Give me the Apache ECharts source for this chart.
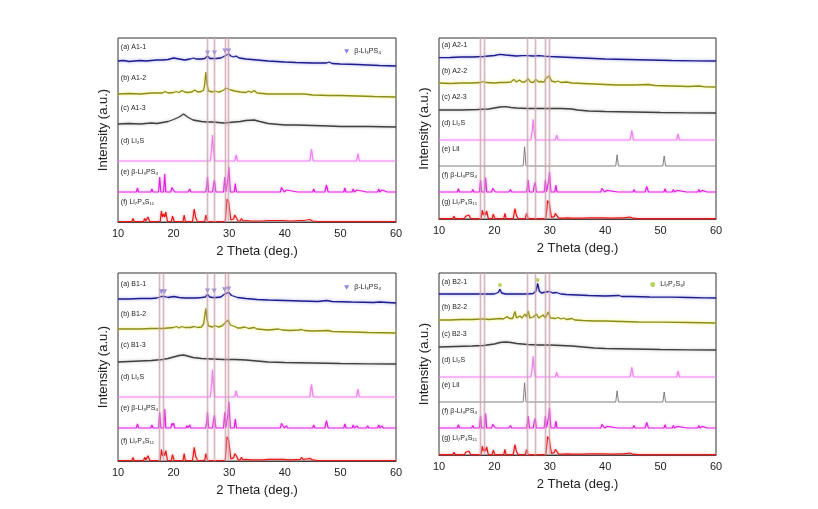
<!DOCTYPE html>
<html><head><meta charset="utf-8">
<script src="https://cdn.jsdelivr.net/npm/echarts@6/dist/echarts.min.js"></script>
<style>html,body{margin:0;padding:0;background:#fff}#c{width:818px;height:509px}</style>
</head><body><div id="c"></div>
<script>
// ---------------- DATA (2θ in degrees, intensity in a.u.) ----------------
const xTicks = [10, 20, 30, 40, 50, 60];
const refLines1 = [26.0, 27.3, 29.2, 29.9];
const refLines2 = [17.5, 18.2, 26.0, 27.3, 29.2, 29.9];

const labelsA1 = ['(a) A1-1', '(b) A1-2', '(c) A1-3', '(d) Li₂S', '(e) β-Li₃PS₄', '(f) Li₇P₃S₁₁'];
const labelsA2 = ['(a) A2-1', '(b) A2-2', '(c) A2-3', '(d) Li₂S', '(e) LiI', '(f) β-Li₃PS₄', '(g) Li₇P₃S₁₁'];
const labelsB1 = ['(a) B1-1', '(b) B1-2', '(c) B1-3', '(d) Li₂S', '(e) β-Li₃PS₄', '(f) Li₇P₃S₁₁'];
const labelsB2 = ['(a) B2-1', '(b) B2-2', '(c) B2-3', '(d) Li₂S', '(e) LiI', '(f) β-Li₃PS₄', '(g) Li₇P₃S₁₁'];
const markerNames = ['β-Li₃PS₄', 'Li₇P₂S₈I'];

const A1_1 = [[10,6],[11,6.5],[12,5.5],[13,6],[14,6.5],[15,6],[16,6.5],[17,7],[18,7],[19,7.5],[20,9],[21,8],[22,7],[23,8],[23.6,9],[24,8],[25,8],[25.6,8.5],[26.1,11],[26.5,8.5],[27,8.5],[27.3,10],[27.7,8.5],[28.5,9],[29.2,11],[29.5,12],[29.9,13],[30.3,11],[30.8,10],[31.2,11],[31.8,9],[33,8],[35,7],[37,6],[40,5],[42,4.5],[45,4],[47.5,4],[48,5],[48.5,3.5],[50,3],[53,2.5],[55,2],[57,1.5],[60,1]];
const A1_2 = [[10,4],[12,4.5],[14,4],[16,5],[18,5],[18.5,6.5],[19,5],[20,5.5],[20.5,6.5],[21,5.5],[21.5,7.5],[22,6],[22.5,5.5],[23.3,6],[23.8,8],[24.3,6],[25,6.5],[25.4,8],[25.6,14],[25.8,26],[26.0,14],[26.3,7],[27,6],[27.4,7],[28,6],[28.5,6.5],[29,8],[29.4,10],[29.8,9],[30.3,8],[31,7],[32,6],[33,5.5],[33.5,7],[34,5.5],[34.5,7.5],[35,5],[37,4],[39,4],[40,4],[43,4],[43.2,5],[43.5,4],[45,3],[48,2.5],[50,2.5],[53,2],[56,1.5],[60,1]];
const A1_3 = [[10,4],[12,4.5],[14,4],[16,5],[17,4.5],[18,5.5],[19,6.5],[20,8.5],[21,11],[21.8,14],[22.5,11],[23.5,8],[25,6.5],[26,6],[27,6],[28,5.5],[29,5],[30,5.5],[31,6],[32,6.5],[33,7.5],[34.5,8],[35.5,6.5],[37,4.5],[39,3.5],[40,3],[42,3],[45,2.5],[48,2],[50,1.5],[55,1.5],[60,1]];
const A1_1_marks = [[26.1,14],[27.35,14],[29.25,16],[29.9,16]];

const A2_1 = [[10,4.3],[12,4.5],[14,5],[16,5],[18,5.5],[19,6],[20,6.5],[21,7.7],[22,7],[23,6.5],[24,6],[25,6.3],[26,6.3],[27,6],[28,6.3],[29,5.8],[30,5.5],[32,5],[34,4.5],[36,4],[38,3.5],[40,3],[44,2.5],[48,2],[52,1.5],[56,1.2],[60,1]];
const A2_2 = [[10,5],[12,4.5],[14,5],[16,5],[17.5,5.5],[18,6.5],[18.5,5.5],[20,5],[21,5.5],[22,5.5],[23,6],[23.5,8.6],[24,6],[24.5,8],[25,6],[25.5,6],[26.1,9.3],[26.5,6],[27,5.5],[27.5,8.6],[28,6],[28.4,6.5],[29,6],[29.2,9],[29.5,7],[29.9,12.3],[30.3,7],[31,6],[31.5,7],[32,5.5],[33,6],[34,5],[36,4.5],[38,4],[40,3.5],[42,3],[45,3],[47.8,3.5],[49,2.5],[52,2],[55,1.5],[57,2],[58,1.2],[60,1]];
const A2_3 = [[10,4],[14,4],[17,4.5],[19,5],[20,6],[21,7],[22,7.3],[23,6.5],[24,6],[26,5.5],[28,5.5],[30,5.5],[32,5.5],[34,5],[35,4],[37,3],[40,2.5],[45,2],[50,1.5],[55,1.2],[60,1]];

const B1_1 = [[10,5],[12,5],[14,5.5],[16,5.5],[17,6],[17.8,7.5],[18.1,6.5],[18.4,7.5],[19,6.5],[20,7.5],[21,6.5],[22,6],[23,6],[24,6],[25,6.5],[25.7,7],[26.1,9.5],[26.5,7],[27,6.5],[27.3,8.5],[27.7,6.5],[28.5,7],[29.2,10],[29.5,9],[29.9,11.7],[30.4,8.5],[31,7.5],[31.5,6.5],[33,5.5],[35,4.5],[37,4],[40,3.5],[43,3],[46,2.5],[47.5,3.5],[48.5,2.5],[52,2],[56,1.5],[57,2],[60,1]];
const B1_2 = [[10,5],[12,5],[14,5],[16,5.5],[18,5.5],[19,6],[20,6.5],[20.5,7.5],[21,6],[21.5,7.5],[22,6.5],[23,6.5],[23.7,7.5],[24.3,6.5],[25,7],[25.4,10],[25.6,18],[25.8,25.7],[26.0,15],[26.3,8],[27,7],[27.4,8.5],[28,7],[28.7,8],[29.2,10.7],[29.5,9],[29.8,14],[30.2,9],[31,7.5],[31.5,6],[32,6],[32.8,7],[33.5,5.5],[34.5,6.5],[35,5],[37,4],[38.9,5],[39.5,4],[41,3.5],[42.5,4],[43,4.5],[43.5,3.5],[45,3],[47.8,3.5],[48.5,2.5],[52,2],[55,1.5],[60,1]];
const B1_3 = [[10,3],[12,3.5],[14,4],[16,4.5],[18,5.5],[19,6.5],[20,8],[21,9.5],[21.8,10],[22.5,9],[23.5,7.5],[25,6.5],[27,6],[29,5.5],[31,5.5],[33,5],[35,4],[37,3],[40,2.5],[45,2],[50,1.5],[55,1.2],[60,1]];
const B1_1_marks = [[17.8,12.3],[18.35,12.3],[26.1,13],[27.3,13],[29.2,14.3],[29.9,15]];

const B2_1 = [[10,5],[12,5],[14,5],[16,5],[18,5],[19,5],[20,5],[20.7,6.5],[21,9.7],[21.3,6],[22,5],[24,5],[26,5],[27,5.5],[27.5,8],[27.8,15.7],[28.1,8],[28.5,6],[29.3,7],[29.6,6],[30,7.5],[30.5,6],[31.2,6.5],[32,5],[33,4.5],[35,4],[37,3.5],[40,3],[42.5,3.5],[43,2.5],[45,2.5],[48,2],[52,1.8],[55,1.5],[58,1.2],[60,1]];
const B2_2 = [[10,4],[12,4],[14,4.5],[16,4.5],[17.5,5],[17.8,7],[18.1,5],[19,4.5],[20,5],[21,5.5],[21.3,6.5],[21.6,5],[22.3,7.5],[22.7,5.5],[23.3,5.5],[23.7,12.5],[24.0,6],[24.6,8],[25.0,6],[25.5,10],[25.8,7],[26.1,13],[26.4,6],[27.0,7],[27.6,10],[28,6],[28.8,9],[29.2,6],[29.7,12],[30.1,6],[31,5.5],[31.5,6.5],[32,5],[32.5,6],[33,4.5],[34,5.5],[34.5,4],[36,3.5],[38,3],[40,3],[43,2.5],[46,2],[50,1.8],[55,1.5],[60,1]];
const B2_3 = [[10,4],[13,4.5],[16,5],[18,5.5],[20,7],[21,8.5],[22,9],[23,8.5],[24,7.5],[26,6.5],[28,6],[30,6],[32,5.5],[34,5],[36,4],[38,3],[40,2.5],[45,2],[50,1.5],[55,1.2],[60,1]];
const B2_1_marks = [[21,14],[27.8,19]];

// reference patterns
const Li2S = [[10,0],[26.6,0],[26.85,13],[27.0,26],[27.15,13],[27.4,0],[31.0,0],[31.25,6],[31.5,0],[44.5,0],[44.8,12],[45.1,0],[52.9,0],[53.15,7.5],[53.4,0],[60,0]];
const LiI = [[10,0],[25.2,0],[25.45,24],[25.7,0],[41.9,0],[42.15,14],[42.4,0],[50.4,0],[50.65,12.5],[50.9,0],[60,0]];
const bLi3PS4 = [[10,0],[13.3,0],[13.5,4],[13.7,0],[15.9,0],[16.1,3],[16.3,0],[17.3,0],[17.5,15],[17.7,0],[18.2,0],[18.4,18],[18.6,0],[19.5,0],[19.7,4.5],[19.85,2.5],[20.0,4.5],[20.2,0],[22.2,0],[22.4,2],[22.6,0],[22.7,0],[22.9,3],[23.1,0],[25.8,0],[26.0,8],[26.1,15],[26.3,0],[27.0,0],[27.2,8],[27.35,12],[27.6,0],[29.0,0],[29.2,15],[29.4,0],[29.6,0],[29.8,14],[29.95,25],[30.2,0],[30.9,0],[31.1,8.5],[31.3,0],[37.1,0],[37.3,1.5],[37.5,0],[39.2,0],[39.4,4.5],[39.55,3],[39.7,4],[39.9,0],[40.1,0],[40.3,2],[40.5,0],[42.3,0],[42.5,1],[42.7,0],[45.0,0],[45.2,3],[45.4,0],[47.2,0],[47.5,7],[47.8,0],[50.6,0],[50.8,4],[51.0,0],[52.1,0],[52.3,3],[52.5,0],[52.8,0],[53.0,2],[53.2,0],[54.7,0],[54.9,2],[55.1,0],[56.7,0],[56.9,3],[57.1,0],[57.3,0],[57.5,2],[57.7,0],[58.4,0],[58.6,1],[58.8,0],[60,0]];
const Li7P3S11 = [[10,0.5],[12.5,0.5],[12.7,3.5],[12.9,0.5],[14.6,0.5],[14.8,3.5],[15.0,1],[15.4,5],[15.7,0.5],[17.6,0.5],[17.8,11],[18.0,5],[18.2,8],[18.4,5],[18.6,10],[18.9,0.5],[19.6,0.5],[19.8,6],[20.1,0.5],[21.7,0.5],[21.9,7],[22.1,0.5],[23.4,0.5],[23.7,13],[24.0,4],[24.3,0.5],[25.6,0.5],[25.8,7],[26.1,0.5],[29.3,0.5],[29.6,23],[29.9,20],[30.3,2],[30.6,0.5],[30.8,3],[31.0,7],[31.3,5],[31.6,1],[32.0,1],[32.2,3.5],[32.5,1],[33.0,1.5],[34,1],[36,1],[37,1.5],[38,1.5],[39.2,1.5],[39.4,3],[39.7,1.5],[41,1],[42.8,1.5],[43.0,3.5],[43.3,1.5],[44.0,2],[44.5,2.5],[45,1],[46,0.5],[60,0.5]];

// ---------------- STYLES / LAYOUT ----------------
const STY = {
  blue:  {color:'#1e1e8c', width:1.3, glow:'rgba(90,90,230,0.6)'},
  olive: {color:'#8c8c1c', width:1.3, glow:'rgba(235,235,80,0.9)'},
  gray:  {color:'#404040', width:1.3, glow:'rgba(120,120,120,0.5)'},
  li2s:  {color:'#ee82ee', width:1.2, glow:'rgba(250,170,250,0.8)'},
  lii:   {color:'#707070', width:0.9, glow:null},
  beta:  {color:'#e020e0', width:1.2, glow:'rgba(250,120,250,0.7)'},
  li7:   {color:'#e81818', width:1.2, glow:'rgba(250,140,140,0.8)'}
};

const panels = [
  {grid:{left:118, top:38, width:278, height:184}, H:184, lines:refLines1, rs:1.0, gap:20,
   traces:[[A1_1,155,'blue',0],[A1_2,124,'olive',1],[A1_3,94,'gray',2],[Li2S,61,'li2s',3],[bLi3PS4,30,'beta',4],[Li7P3S11,0,'li7',5]],
   labels:labelsA1, marks:{data:A1_1_marks, off:155, name:0}, legend:{right:432, top:43}},
  {grid:{left:439, top:38, width:277, height:181}, H:181, lines:refLines2, rs:0.8, gap:17,
   traces:[[A2_1,157,'blue',0],[A2_2,131,'olive',1],[A2_3,105,'gray',2],[Li2S,79,'li2s',3],[LiI,53,'lii',4],[bLi3PS4,27,'beta',5],[Li7P3S11,0,'li7',6]],
   labels:labelsA2},
  {grid:{left:118, top:273, width:278, height:188}, H:188, lines:refLines2, rs:1.05, gap:20,
   traces:[[B1_1,157,'blue',0],[B1_2,127,'olive',1],[B1_3,96,'gray',2],[Li2S,64,'li2s',3],[bLi3PS4,33,'beta',4],[Li7P3S11,0,'li7',5]],
   labels:labelsB1, marks:{data:B1_1_marks, off:157, name:0}, legend:{right:432, top:279}},
  {grid:{left:439, top:273, width:277, height:182}, H:182, lines:refLines2, rs:0.8, gap:17,
   traces:[[B2_1,156,'blue',0],[B2_2,131,'olive',1],[B2_3,104,'gray',2],[Li2S,78,'li2s',3],[LiI,53,'lii',4],[bLi3PS4,27,'beta',5],[Li7P3S11,0,'li7',6]],
   labels:labelsB2, marks:{data:B2_1_marks, off:156, name:1}, legend:{right:128, top:276}}
];

const FONT = 'Liberation Sans, Arial, sans-serif';
const grids = [], xAxes = [], yAxes = [], series = [], legends = [];

panels.forEach((p, pi) => {
  grids.push(Object.assign({show:true, borderColor:'#333', borderWidth:1, backgroundColor:'transparent'}, p.grid));
  xAxes.push({gridIndex:pi, type:'value', min:xTicks[0], max:xTicks[xTicks.length-1], interval:10,
    axisLine:{show:true, lineStyle:{color:'#333'}}, axisTick:{show:false}, splitLine:{show:false},
    axisLabel:{fontSize:11, color:'#222', margin:6, fontFamily:FONT},
    name:'2 Theta (deg.)', nameLocation:'middle', nameGap:23,
    nameTextStyle:{fontSize:13, color:'#222', fontFamily:FONT}});
  yAxes.push({gridIndex:pi, type:'value', min:0, max:p.H,
    axisLine:{show:false}, axisTick:{show:false}, axisLabel:{show:false}, splitLine:{show:false},
    name:'Intensity (a.u.)', nameLocation:'middle', nameGap:8, nameRotate:90,
    nameTextStyle:{fontSize:13, color:'#222', fontFamily:FONT}});

  // vertical reference lines (faint pink band + thin gray line)
  [['rgba(240,170,185,0.35)',3],['#a8a8a8',0.6]].forEach(([c,w]) => {
    series.push({type:'line', xAxisIndex:pi, yAxisIndex:pi, data:[[10,-10]], symbol:'none', silent:true, z:1,
      lineStyle:{opacity:0},
      markLine:{silent:true, symbol:'none', label:{show:false}, animation:false,
        lineStyle:{color:c, width:w, type:'solid'},
        data:p.lines.map(v => ({xAxis:v}))}});
  });

  p.traces.forEach(([arr, off, st, li]) => {
    const s = STY[st];
    const isRef = !(st==='blue'||st==='olive'||st==='gray');
    const k = isRef ? p.rs : 1;
    series.push({type:'line', name:p.labels[li], xAxisIndex:pi, yAxisIndex:pi, z:3,
      data:arr.map(d => [d[0], off + d[1]*k]), symbol:'none', clip:false, animation:false,
      lineStyle:Object.assign({color:s.color, width:s.width}, s.glow ? {shadowColor:s.glow, shadowBlur:3} : {}),
      markPoint:{silent:true, animation:false, symbol:'circle', symbolSize:0.1, itemStyle:{color:'rgba(0,0,0,0)'},
        label:{show:true, position:'right', distance:0, color:'#222', fontSize:7, fontFamily:FONT, formatter:p.labels[li]},
        data:[{coord:[10.5, off + p.gap]}]}});
  });

  if (p.marks) {
    const nm = markerNames[p.marks.name];
    const isTri = p.marks.name === 0;
    series.push({type:'scatter', name:nm, xAxisIndex:pi, yAxisIndex:pi, z:4, animation:false,
      data:p.marks.data.map(d => [d[0], p.marks.off + d[1]]),
      symbol: isTri ? 'path://M0,0L10,0L5,9Z' : 'circle', symbolSize: isTri ? [5,5] : 4,
      itemStyle:{color: isTri ? '#6868e0' : '#a6c83a'}});
  }
  if (p.legend) {
    const nm = markerNames[p.marks.name];
    legends.push({show:true, right:p.legend.right, top:p.legend.top, itemWidth:5, itemHeight:5, itemGap:4,
      textStyle:{fontSize:7, color:'#222', fontFamily:FONT}, selectedMode:false,
      data:[{name:nm, icon: p.marks.name===0 ? 'path://M0,0L10,0L5,9Z' : 'circle'}]});
  }
});

const chart = echarts.init(document.getElementById('c'), null, {renderer:'canvas'});
chart.setOption({backgroundColor:'#fff', animation:false, grid:grids, xAxis:xAxes, yAxis:yAxes, legend:legends, series:series});
</script></body></html>
